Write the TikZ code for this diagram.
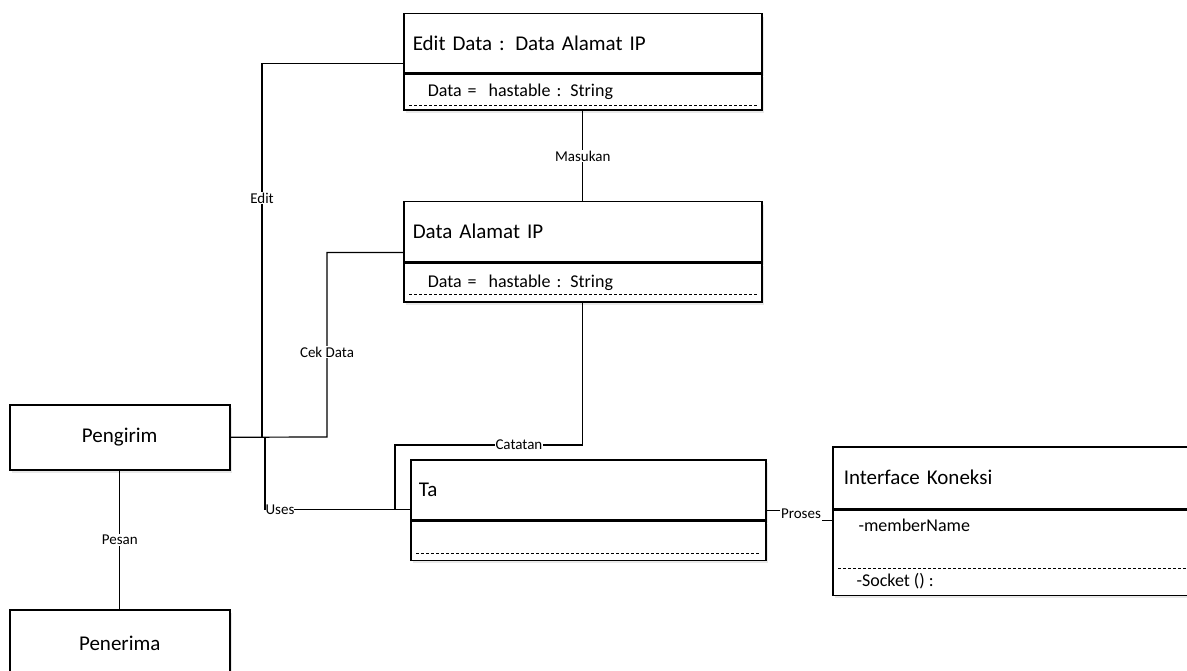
\documentclass[tikz,border=0pt]{standalone}
\usepackage{fontspec}
\setmainfont{Carlito}
\usetikzlibrary{shadows}
\begin{document}
\begin{tikzpicture}[x=1pt, y=-1pt,
  box/.style={draw=black, line width=1.5pt, fill=white, anchor=north west,
    drop shadow={opacity=0.18, shadow xshift=2pt, shadow yshift=-3pt}},
  hdr/.style={box, align=left, inner xsep=9pt, font=\fontsize{21}{25}\selectfont},
  cmp/.style={box, align=left, inner xsep=24pt, font=\fontsize{18}{21}\selectfont},
  actor/.style={box, align=center, minimum width=220pt, font=\fontsize{21}{25}\selectfont},
  sep/.style={line width=1pt, dash pattern=on 3pt off 2pt},
  conn/.style={line width=1.2pt},
  lbl/.style={fill=white, inner sep=1pt, font=\fontsize{15}{17}\selectfont}]
\path[use as bounding box] (0,0) rectangle (1187,671);
\clip (0,0) rectangle (1187,671);

\node[hdr, text width=340pt, minimum height=59pt] (edit) at (403,13) {Edit Data : Data Alamat IP};
\node[cmp, text width=310pt, minimum height=36pt] (editattr) at (edit.south west) {Data = \ hastable : String};
\draw[sep] ([xshift=6pt,yshift=5pt]editattr.south west) -- ([xshift=-6pt,yshift=5pt]editattr.south east);

\node[hdr, text width=340pt, minimum height=60pt] (dataip) at (403,201) {Data Alamat IP};
\node[cmp, text width=310pt, minimum height=39pt] (dataattr) at (dataip.south west) {Data = \ hastable : String};
\draw[sep] ([xshift=6pt,yshift=8pt]dataattr.south west) -- ([xshift=-6pt,yshift=8pt]dataattr.south east);

\node[actor, minimum height=65pt] (pengirim) at (9,404) {Pengirim};
\node[actor, minimum height=68pt] (penerima) at (9,609) {Penerima};

\node[hdr, text width=339pt, inner xsep=8pt, minimum height=60pt] (ta) at (410,459) {Ta};
\node[box, minimum width=355pt, minimum height=39pt] (taattr) at (ta.south west) {};
\draw[sep] ([xshift=6pt,yshift=8pt]taattr.south west) -- ([xshift=-6pt,yshift=8pt]taattr.south east);

\node[hdr, text width=338pt, inner xsep=11pt, minimum height=62pt] (iface) at (832,446) {Interface Koneksi};
\node[box, minimum width=360pt, minimum height=85pt] (ifaceattr) at (iface.south west) {};
\node[anchor=west, font=\fontsize{18}{21}\selectfont] (member) at (855,525) {-memberName};
\draw[sep] ([xshift=6pt,yshift=28pt]ifaceattr.south west) -- ([yshift=28pt]ifaceattr.south east);
\node[anchor=west, font=\fontsize{18}{21}\selectfont] (socket) at (853,581) {-Socket () :};

\coordinate (je) at (262,437);
\coordinate (jc) at (327,437);
\coordinate (ju) at (265,437);
\coordinate (jt) at (395,445);
\coordinate (jp) at (801,514);
\coordinate (tw) at ([yshift=11pt]ta.south west);

\draw[conn] ([yshift=10pt]edit.south west) -| node[lbl, pos=0.68] {Edit} (je);
\draw[conn] (editattr.south) -- node[lbl] {Masukan} (dataip.north);
\draw[conn] ([yshift=10pt]dataip.south west) -| node[lbl, pos=0.77] {Cek Data} (jc) -- (pengirim.east);
\draw[conn] (ju) |- node[lbl, pos=0.5, anchor=west, inner xsep=0pt] {Uses} (tw);
\draw[conn] (dataattr.south) |- node[lbl, pos=0.67] {Catatan} (jt) -- (jt |- tw);
\draw[conn] ([yshift=10pt]ta.south east) -| (jp) |- ([yshift=-11pt]iface.south west);
\node[lbl, inner ysep=2.5pt] (proses) at (jp) {Proses};
\draw[conn] (pengirim.south) -- node[lbl] {Pesan} (penerima.north);
\end{tikzpicture}
\end{document}
